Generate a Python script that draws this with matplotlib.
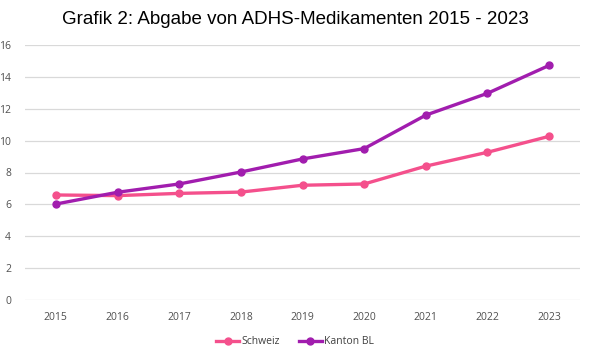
import numpy as np
import matplotlib.pyplot as plt

years = ['2015', '2016', '2017', '2018', '2019', '2020', '2021', '2022', '2023']
schweiz = [6.59, 6.55, 6.69, 6.77, 7.2, 7.28, 8.4, 9.27, 10.27]
kanton_bl = [6.02, 6.76, 7.28, 8.03, 8.85, 9.5, 11.6, 12.97, 14.72]

plt.rcParams['font.family'] = ['Open Sans', 'DejaVu Sans']

fig = plt.figure(figsize=(5.9, 3.57), dpi=100)
ax = fig.add_axes([25 / 590, 1 - 300 / 357, 555 / 590, 255 / 357])

x = np.arange(len(years))
ax.plot(x, schweiz, color='#F4508C', lw=2.4, marker='o', ms=5, label='Schweiz')
ax.plot(x, kanton_bl, color='#A11DAE', lw=2.4, marker='o', ms=5, label='Kanton BL')

ax.set_xlim(-0.5, len(years) - 0.5)
ax.set_ylim(0, 16)
ax.set_yticks(range(0, 17, 2))
ax.set_xticks(x)
ax.set_xticklabels(years)
ax.tick_params(length=0, labelsize=7.5, colors='#505050')
ax.tick_params(axis='x', pad=9)
ax.tick_params(axis='y', pad=10)
ax.grid(axis='y', color='#D9D9D9', lw=0.9)
ax.set_axisbelow(True)
for s in ax.spines.values():
    s.set_visible(False)

fig.text(0.5, 1 - 20 / 357, 'Grafik 2: Abgabe von ADHS-Medikamenten 2015 - 2023',
         ha='center', va='center', fontsize=13.5, family='Liberation Sans')

fig.legend(loc='center', bbox_to_anchor=(0.5, 1 - 342 / 357), ncol=2, frameon=False,
           fontsize=7.5, handlelength=2.2, columnspacing=1.8, handletextpad=0.2,
           labelcolor='#404040')

fig.savefig('out.png', dpi=100)
